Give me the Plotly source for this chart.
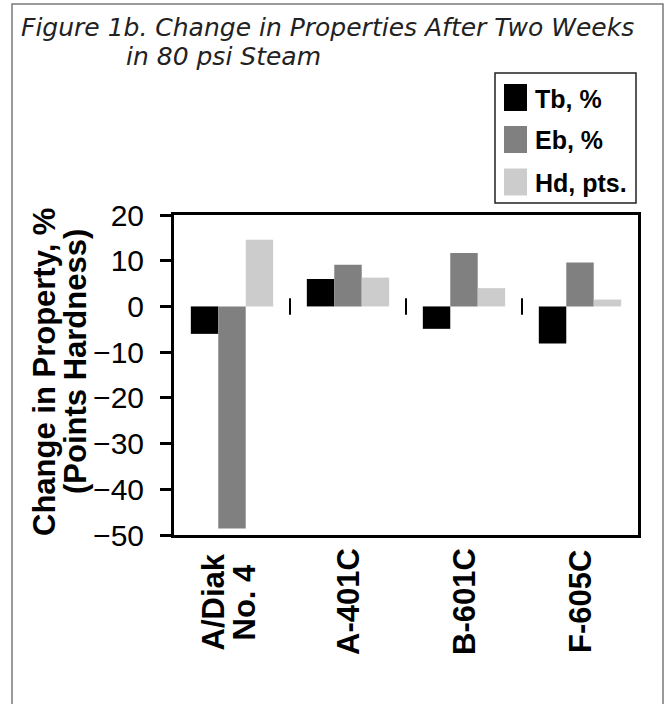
import plotly.graph_objects as go

# ---- data ----
categories = ["A/Diak<br>No. 4", "A-401C", "B-601C", "F-605C"]
series_names = ["Tb, %", "Eb, %", "Hd, pts."]
tb_values = [-6.0, 6.0, -4.9, -8.1]
eb_values = [-48.6, 9.1, 11.7, 9.6]
hd_values = [14.6, 6.3, 4.0, 1.5]
series_colors = ["#000000", "#808080", "#cccccc"]
y_ticks = [20, 10, 0, -10, -20, -30, -40, -50]
title_line1 = "Figure 1b. Change in Properties After Two Weeks"
title_line2 = "in 80 psi Steam"
y_title_line1 = "Change in Property, %"
y_title_line2 = "(Points Hardness)"

W, H = 670, 704
PL, PR, PT, PB = 174, 638, 215, 535


def fx(px):
    return (px - PL) / (PR - PL)


def fy(py):
    return (PB - py) / (PB - PT)


FONT = "Liberation Sans, Arial, Helvetica, sans-serif"

fig = go.Figure()
for name, vals, col in zip(series_names, [tb_values, eb_values, hd_values], series_colors):
    fig.add_trace(go.Bar(x=categories, y=vals, name=name, marker=dict(color=col, line=dict(width=0)),
                         showlegend=False))

shapes = []
annotations = []

# outer frame
shapes.append(dict(type="rect", xref="paper", yref="paper", x0=fx(12), x1=fx(663), y0=fy(712), y1=fy(4),
                   line=dict(color="#7a7a7a", width=1.5), fillcolor="rgba(0,0,0,0)", layer="below"))

# category dividers on the zero line
for i in range(len(categories) - 1):
    shapes.append(dict(type="line", xref="x", yref="y", x0=i + 0.5, x1=i + 0.5, y0=-1.8, y1=1.8,
                       line=dict(color="#000000", width=2)))

# category labels (rotated, lines centred on each other, tight line spacing)
XFONT = dict(family=FONT, size=31, color="#000000")
LINE_GAP = 31
for cat in categories:
    lines = cat.split("<br>")
    n = len(lines)
    for j, ln in enumerate(lines):
        annotations.append(dict(text="<b>%s</b>" % ln, xref="x", yref="paper", x=cat, y=fy(602),
                                xanchor="center", yanchor="middle", textangle=-90, showarrow=False,
                                xshift=(j - (n - 1) / 2) * LINE_GAP - (4 if n > 1 else 0), font=XFONT))

# custom legend
shapes.append(dict(type="rect", xref="paper", yref="paper", x0=fx(495), x1=fx(636), y0=fy(203), y1=fy(73),
                   line=dict(color="#222222", width=1.5), fillcolor="white"))
row_centers = [97.5, 139.5, 182]
for name, col, cy in zip(series_names, series_colors, row_centers):
    shapes.append(dict(type="rect", xref="paper", yref="paper", x0=fx(504), x1=fx(527),
                       y0=fy(cy + 13.5), y1=fy(cy - 13.5), line=dict(width=0), fillcolor=col))
    annotations.append(dict(text="<b>%s</b>" % name, xref="paper", yref="paper", x=fx(533), y=fy(cy + 1),
                            xanchor="left", yanchor="middle", showarrow=False,
                            font=dict(family=FONT, size=25, color="#000000")))

# title
TFONT = dict(family="DejaVu Sans, sans-serif", size=25, color="#222222", style="italic", weight=300)
annotations.append(dict(text=title_line1, xref="paper", yref="paper", x=fx(19), y=fy(27),
                        xanchor="left", yanchor="middle", showarrow=False, font=TFONT))
annotations.append(dict(text=title_line2, xref="paper", yref="paper", x=fx(124), y=fy(56),
                        xanchor="left", yanchor="middle", showarrow=False, font=TFONT))

# y title (two lines)
YFONT = dict(family=FONT, size=31, color="#000000")
annotations.append(dict(text="<b>%s</b>" % y_title_line1, xref="paper", yref="paper", x=fx(44), y=fy(372),
                        xanchor="center", yanchor="middle", textangle=-90, showarrow=False, font=YFONT))
annotations.append(dict(text="<b>%s</b>" % y_title_line2, xref="paper", yref="paper", x=fx(75), y=fy(362),
                        xanchor="center", yanchor="middle", textangle=-90, showarrow=False, font=YFONT))

fig.update_layout(
    width=W, height=H,
    margin=dict(l=PL, r=W - PR, t=PT, b=H - PB, pad=0),
    paper_bgcolor="white", plot_bgcolor="white",
    barmode="group", bargap=0.29, bargroupgap=0,
    shapes=shapes, annotations=annotations,
    showlegend=False,
    xaxis=dict(type="category", showline=True, linecolor="#000000", linewidth=3, mirror=True,
               showgrid=False, zeroline=False, ticks="", showticklabels=False),
    yaxis=dict(range=[-50, 20], tickvals=y_ticks, showline=True, linecolor="#000000", linewidth=3,
               mirror=True, showgrid=False, zeroline=False, ticks="outside", ticklen=11, tickwidth=2.5,
               tickcolor="#000000", ticklabelstandoff=10,
               tickfont=dict(family=FONT, size=30, color="#000000")),
)

fig.write_html("out.html", config={"displayModeBar": False},
               post_script="document.body.style.margin='0';document.body.style.overflow='hidden';")
